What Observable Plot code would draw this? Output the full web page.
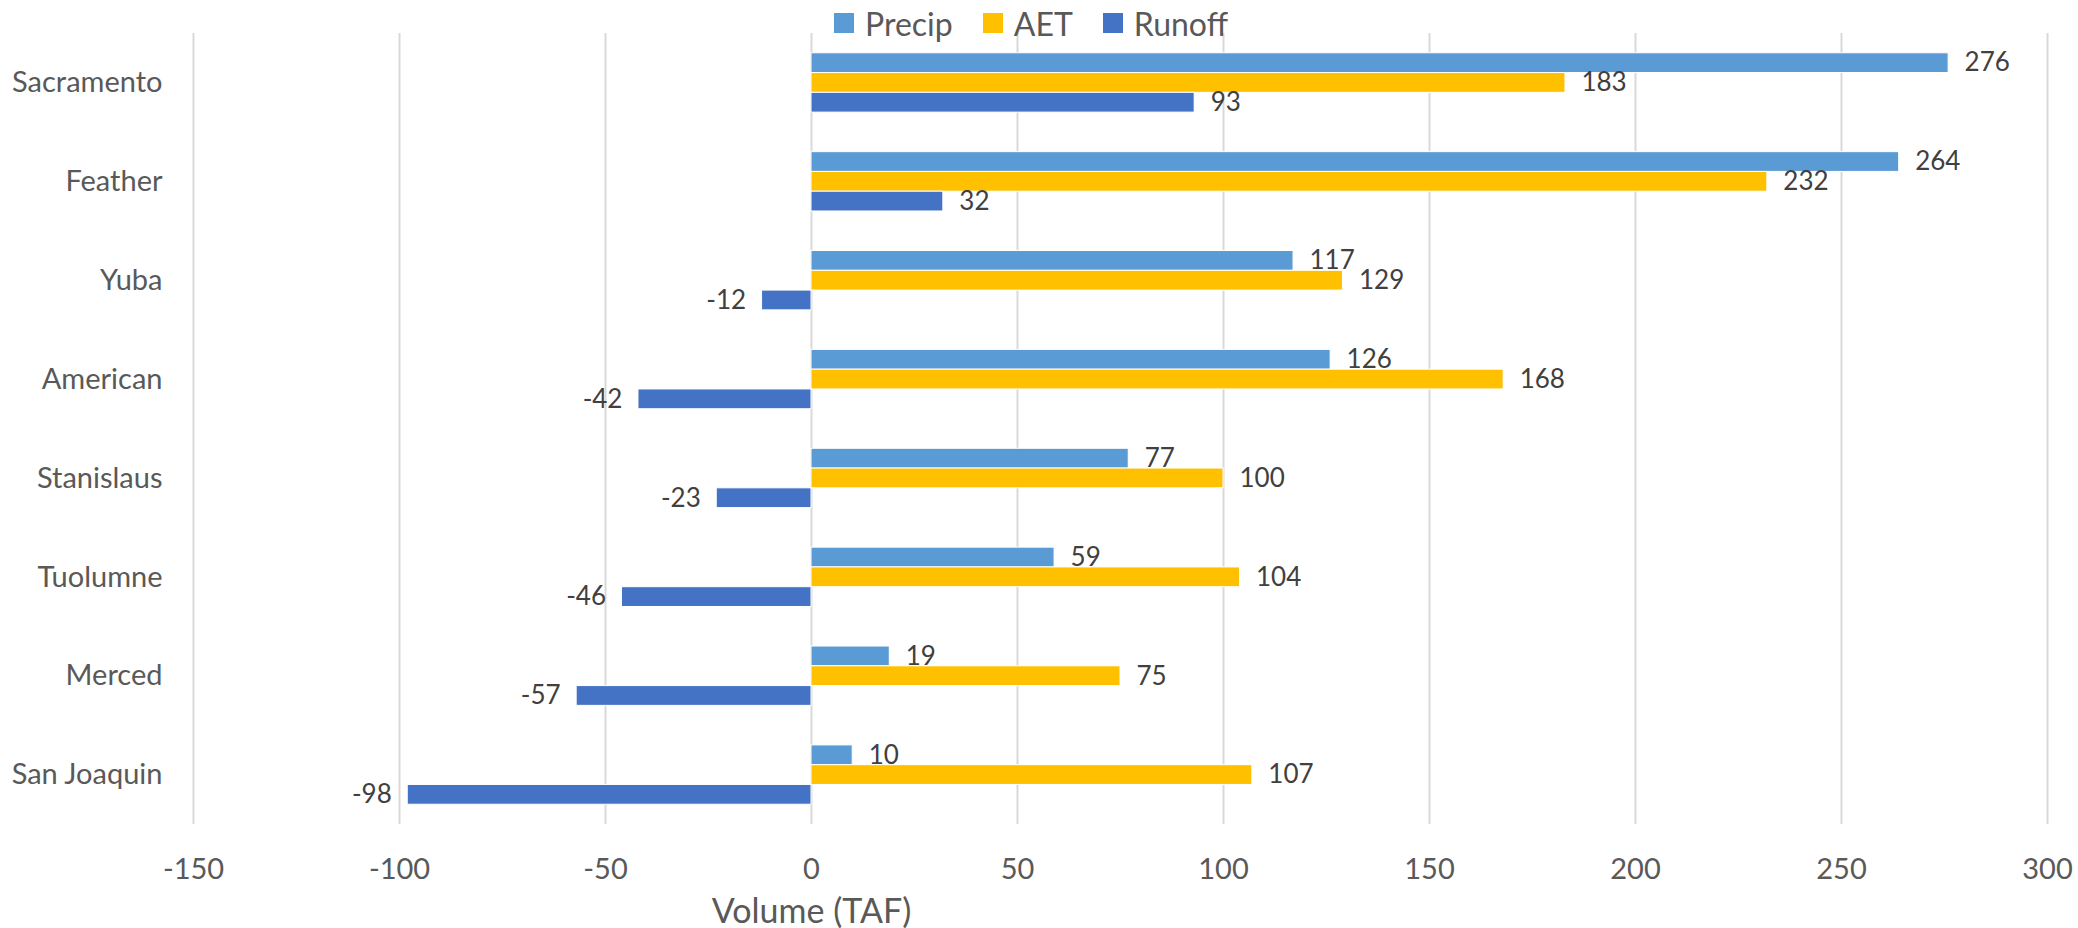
<!DOCTYPE html>
<html>
<head>
<meta charset="utf-8">
<script src="https://cdn.jsdelivr.net/npm/d3@7"></script>
<script src="https://cdn.jsdelivr.net/npm/@observablehq/plot@0.6"></script>
<style>
  html, body { margin: 0; padding: 0; background: #fff; }
  #chart { position: relative; width: 2078px; height: 928px; font-family: Lato, "Open Sans", sans-serif; }
  #legend {
    position: absolute; top: 0; left: 0; width: 2062px; height: 46px;
    display: flex; align-items: center; justify-content: center;
    font-size: 32px; color: #595959; z-index: 2;
  }
  #legend .item { display: flex; align-items: center; margin: 0 15px; }
  #legend .swatch { width: 20px; height: 20px; margin-right: 11px; }
</style>
</head>
<body>
<div id="chart"><div id="legend"></div></div>
<script>
// Watershed volumes (TAF) by basin
const categories = ["Sacramento", "Feather", "Yuba", "American", "Stanislaus", "Tuolumne", "Merced", "San Joaquin"];
const seriesNames = ["Precip", "AET", "Runoff"];
const precip = [276, 264, 117, 126, 77, 59, 19, 10];
const aet = [183, 232, 129, 168, 100, 104, 75, 107];
const runoff = [93, 32, -12, -42, -23, -46, -57, -98];
const seriesColors = ["#5B9BD5", "#FFC000", "#4472C4"];
const xTicks = [-150, -100, -50, 0, 50, 100, 150, 200, 250, 300];
const axisTitle = "Volume (TAF)";

const seriesValues = [precip, aet, runoff];
const key = (c, s) => `${c}|${s}`;

// Long-format rows, one per bar
const rows = [];
categories.forEach((c, i) => {
  seriesNames.forEach((s, j) => {
    rows.push({category: c, series: s, value: seriesValues[j][i], key: key(c, s)});
  });
});

// Band domain: each basin gets a spacer slot before and after its three bars
const yDomain = categories.flatMap(c => [key(c, "_a"), ...seriesNames.map(s => key(c, s)), key(c, "_b")]);

const fmt = d => String(d);

const chart = Plot.plot({
  width: 2078,
  height: 928,
  marginLeft: 193,
  marginRight: 31,
  marginTop: 33,
  marginBottom: 104,
  style: {fontFamily: "Lato, 'Open Sans', sans-serif", fontSize: "29px", color: "#595959", background: "white", overflow: "visible"},
  x: {domain: [-150, 300]},
  y: {domain: yDomain, padding: 0},
  color: {domain: seriesNames, range: seriesColors},
  marks: [
    Plot.gridX({ticks: xTicks, stroke: "#d9d9d9", strokeOpacity: 1, strokeWidth: 2}),
    Plot.barX(rows, {x: "value", y: "key", fill: "series", stroke: "white", strokeWidth: 1}),
    Plot.text(rows.filter(d => d.value >= 0), {
      x: "value", y: "key", text: d => fmt(d.value),
      textAnchor: "start", dx: 16, fill: "#404040", fontSize: 26
    }),
    Plot.text(rows.filter(d => d.value < 0), {
      x: "value", y: "key", text: d => fmt(d.value),
      textAnchor: "end", dx: -16, fill: "#404040", fontSize: 26
    }),
    Plot.axisX({ticks: xTicks, tickFormat: fmt, tickSize: 0, tickPadding: 34, label: null, fontSize: 29}),
    Plot.axisY({
      ticks: categories.map(c => key(c, "AET")),
      tickFormat: k => k.split("|")[0],
      tickSize: 0, tickPadding: 31, label: null, fontSize: 29
    }),
    Plot.text([axisTitle], {
      x: () => 0, frameAnchor: "bottom", dy: 88, lineAnchor: "middle",
      text: d => d, fontSize: 34, fill: "#595959"
    })
  ]
});

document.getElementById("chart").appendChild(chart);

// Legend row above the plot
const legend = d3.select("#legend");
seriesNames.forEach((s, i) => {
  const item = legend.append("div").attr("class", "item");
  item.append("div").attr("class", "swatch").style("background", seriesColors[i]);
  item.append("span").text(s);
});
</script>
</body>
</html>
